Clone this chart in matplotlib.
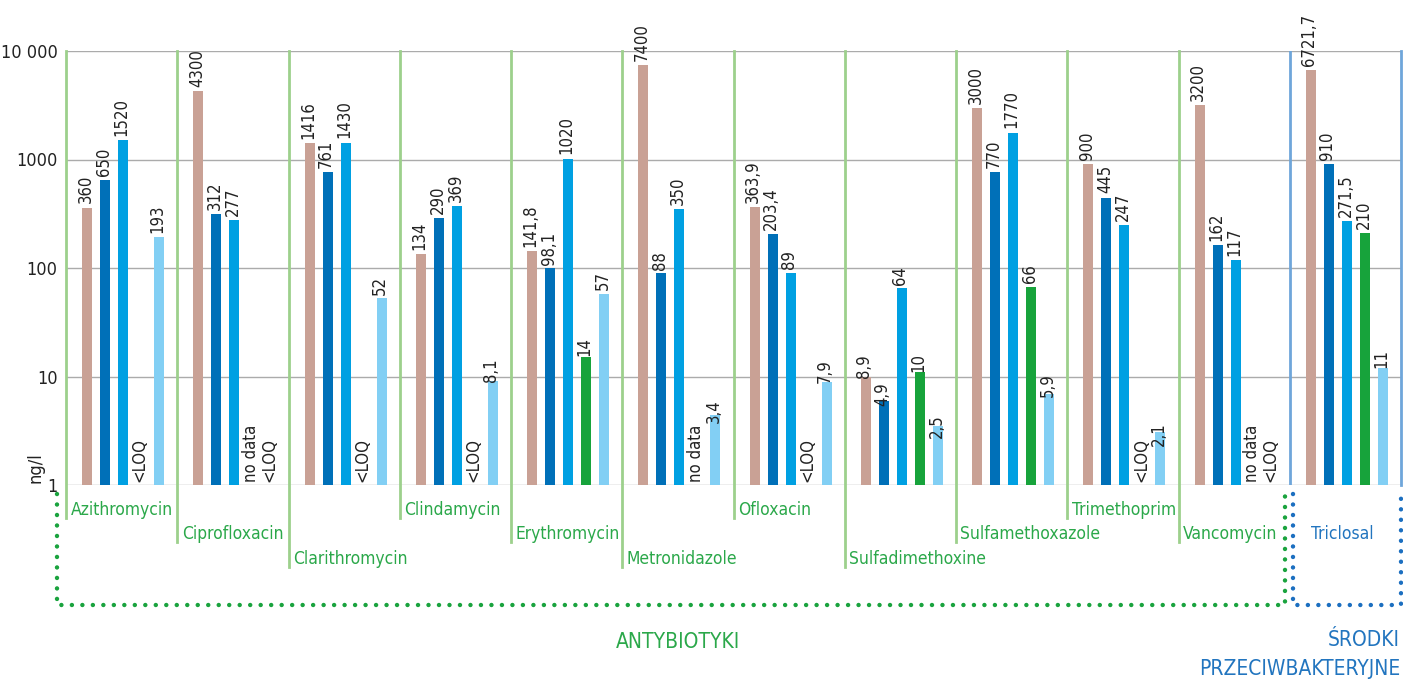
import matplotlib
matplotlib.use("Agg")
import matplotlib.pyplot as plt
from matplotlib.transforms import blended_transform_factory

plt.rcParams["font.family"] = ["DejaVu Sans"]
plt.rcParams["font.stretch"] = "condensed"

compounds = [
    "Azithromycin", "Ciprofloxacin", "Clarithromycin", "Clindamycin",
    "Erythromycin", "Metronidazole", "Ofloxacin", "Sulfadimethoxine",
    "Sulfamethoxazole", "Trimethoprim", "Vancomycin", "Triclosal",
]
label_level = [0, 1, 2, 0, 1, 2, 0, 2, 1, 0, 1, 1]

series_a = [360, 4300, 1416, 134, 141.8, 7400, 363.9, 8.9, 3000, 900, 3200, 6721.7]
series_b = [650, 312, 761, 290, 98.1, 88, 203.4, 4.9, 770, 445, 162, 910]
series_c = [1520, 277, 1430, 369, 1020, 350, 89, 64, 1770, 247, 117, 271.5]
series_d = [None, None, None, None, 14, None, None, 10, 66, None, None, 210]
series_e = [193, None, 52, 8.1, 57, 3.4, 7.9, 2.5, 5.9, 2.1, None, 11]

notes_d = ["<LOQ", "no data", "<LOQ", "<LOQ", "", "no data", "<LOQ", "", "", "<LOQ", "no data", ""]
notes_e = ["", "<LOQ", "", "", "", "", "", "", "", "", "<LOQ", ""]

colors = ["#C9A195", "#0070B8", "#00A0E2", "#17A33B", "#82CFF4"]
green_txt = "#2BA84A"
blue_txt = "#2275BF"
sep_green = "#9DD08C"
sep_blue = "#6FA6DA"

W, H = 1403, 682
fig = plt.figure(figsize=(W / 100, H / 100), dpi=100)
ax_l, ax_r, ax_t, ax_b = 66, 1401, 51, 485
ax = fig.add_axes([ax_l / W, 1 - ax_b / H, (ax_r - ax_l) / W, (ax_b - ax_t) / H])
ax.set_yscale("log")
ax.set_ylim(1, 10000)
ax.set_xlim(0, len(compounds))
for s in ax.spines.values():
    s.set_visible(False)
ax.set_yticks([1, 10, 100, 1000, 10000])
ax.set_yticklabels(["1", "10", "100", "1000", "10 000"])
ax.minorticks_off()
ax.tick_params(axis="y", length=0, pad=6, labelsize=13, labelcolor="#222222")
ax.set_xticks([])
for v in [1, 10, 100, 1000, 10000]:
    ax.axhline(v, color="#ABABAB", lw=1, zorder=1)

offsets = [0.189, 0.351, 0.513, 0.675, 0.837]
bar_w = 0.09


def fmt(v):
    if float(v).is_integer():
        return str(int(v))
    return str(v).replace(".", ",")


all_series = [series_a, series_b, series_c, series_d, series_e]
for k, ser in enumerate(all_series):
    xs = [i + offsets[k] for i in range(len(compounds))]
    for x, v in zip(xs, ser):
        if v is None:
            continue
        ax.bar(x, v, width=bar_w, bottom=1, color=colors[k], zorder=2)
        ax.annotate(fmt(v), (x, v), xytext=(-1, 3), textcoords="offset points",
                    rotation=90, ha="center", va="bottom", fontsize=12,
                    color="#222222", annotation_clip=False)

for k, notes in [(3, notes_d), (4, notes_e)]:
    for i, n in enumerate(notes):
        if n:
            ax.annotate(n, (i + offsets[k], 1), xytext=(-1, 2), textcoords="offset points",
                        rotation=90, ha="center", va="bottom", fontsize=12,
                        color="#222222", annotation_clip=False)

# group separators and staggered compound names
trans = blended_transform_factory(ax.transData, ax.transAxes)
level_y = [510, 534, 559]
to_ax = lambda py: (ax_b - py) / (ax_b - ax_t)
for i, name in enumerate(compounds):
    if i < 11:
        y_end = to_ax(level_y[label_level[i]] + 8)
        ax.plot([i, i], [1, y_end], transform=trans, color=sep_green, lw=2,
                clip_on=False, zorder=1)
        ax.text(i + 0.04, to_ax(level_y[label_level[i]]), name, transform=trans,
                ha="left", va="center", fontsize=12.5, color=green_txt)
    else:
        ax.plot([i, i], [0, 1], transform=trans, color=sep_blue, lw=2, zorder=1)
        ax.text(i + 0.47, to_ax(level_y[label_level[i]]), name, transform=trans,
                ha="center", va="center", fontsize=12.5, color=blue_txt)
ax.plot([12, 12], [0, 1], transform=trans, color=sep_blue, lw=2, clip_on=False, zorder=1)

fig.text(35 / W, 1 - 468 / H, "ng/l", rotation=90, ha="center", va="center",
         fontsize=13, color="#222222")

# dotted brackets under the groups
ov = fig.add_axes([0, 0, 1, 1], facecolor="none")
ov.set_xlim(0, W)
ov.set_ylim(H, 0)
ov.axis("off")
dots = dict(lw=3.2, linestyle=(0, (0.01, 2.35)), dash_capstyle="round")
ov.plot([57, 57, 1285, 1285], [494, 605, 605, 494], color="#1AA33E", **dots)
ov.plot([1293, 1293, 1401, 1401], [494, 605, 605, 494], color="#1C6FC0", **dots)

ov.text(678, 642, "ANTYBIOTYKI", ha="center", va="center", fontsize=15, color=green_txt)
ov.text(1400, 640, "ŚRODKI", ha="right", va="center", fontsize=15, color=blue_txt)
ov.text(1400, 669, "PRZECIWBAKTERYJNE", ha="right", va="center", fontsize=15, color=blue_txt)

fig.savefig("out.png", dpi=100)
